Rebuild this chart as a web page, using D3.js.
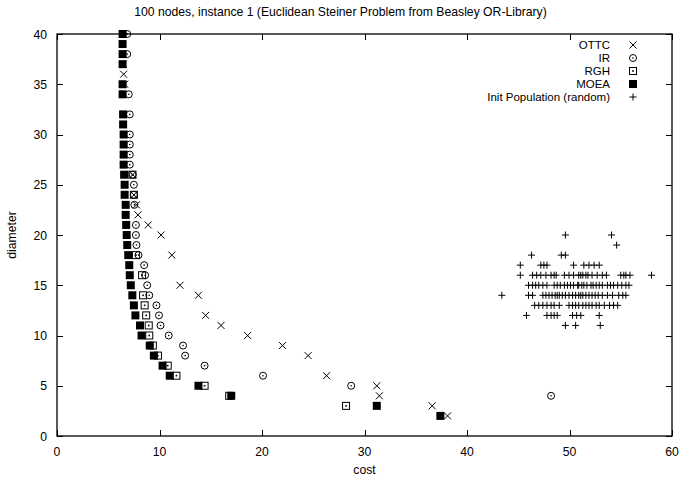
<!DOCTYPE html>
<html>
<head>
<meta charset="utf-8">
<script src="https://cdn.jsdelivr.net/npm/d3@7"></script>
<style>
  html, body { margin: 0; padding: 0; background: #fff; }
  svg { display: block; font-family: "Liberation Sans", Arial, Helvetica, sans-serif; }
</style>
</head>
<body>
<svg id="chart" width="681" height="483"></svg>
<script>
// ---------------- DATA ----------------
const chartTitle = "100 nodes, instance 1 (Euclidean Steiner Problem from Beasley OR-Library)";
const xLabel = "cost";
const yLabel = "diameter";
const xTicks = [0, 10, 20, 30, 40, 50, 60];
const yTicks = [0, 5, 10, 15, 20, 25, 30, 35, 40];
const seriesNames = ["OTTC", "IR", "RGH", "MOEA", "Init Population (random)"];

// [cost, diameter]
const ottc = [[6.45,37],[6.5,36],[6.6,35],[7.4,26],[7.5,24],[7.75,23],[7.9,22],[8.9,21],[10.15,20],[11.2,18],
  [12.0,15],[13.8,14],[14.5,12],[16.0,11],[18.6,10],[22.0,9],[24.5,8],[26.3,6],[31.2,5],[31.45,4],[36.6,3],[38.1,2]];

const ir = [[6.85,40],[6.85,38],[7.0,34],[7.1,32],[7.1,30],[7.1,29],[7.1,28],[7.1,27],[7.4,26],[7.5,25],[7.5,24],
  [7.55,23],[7.7,21],[7.7,20],[7.75,19],[7.95,18],[8.5,17],[8.6,16],[8.8,15],[9.0,14],[9.7,13],[9.95,12],[10.1,11],
  [10.9,10],[12.3,9],[12.5,8],[14.4,7],[20.1,6],[28.7,5],[48.2,4]];

const rgh = [[7.35,26],[7.5,24],[7.7,18],[8.3,16],[8.4,14],[8.55,13],[8.7,12],[8.95,11],[9.0,10],[9.35,9],
  [9.85,8],[10.8,7],[11.65,6],[14.4,5],[16.8,4],[28.2,3]];

const moea = [[6.4,40],[6.4,39],[6.4,38],[6.4,37],[6.4,35],[6.4,34],[6.45,32],[6.45,31],[6.5,30],[6.5,29],[6.5,28],
  [6.5,27],[6.55,26],[6.6,25],[6.6,24],[6.7,23],[6.7,22],[6.75,21],[6.8,20],[6.85,19],[6.95,18],[7.05,17],[7.1,16],
  [7.2,15],[7.35,14],[7.5,13],[7.65,12],[8.1,11],[8.25,10],[9.05,9],[9.45,8],[10.3,7],[11.0,6],[13.8,5],[17.0,4],
  [31.2,3],[37.4,2]];

// initial random population, costs per diameter row
const initD20 = [49.6, 54.1];
const initD19 = [54.6];
const initD18 = [46.3, 49.2, 49.6];
const initD17 = [45.2, 47.2, 47.5, 47.8, 50.4, 51.4, 51.9, 52.4, 52.9];
const initD16 = [45.2, 46.4, 46.8, 47.2, 47.7, 48.2, 48.5, 48.7, 49.5, 49.95, 50.4, 50.9, 51.1, 51.3, 51.6, 51.8,
  52.2, 52.7, 53.2, 53.6, 55.0, 55.3, 55.5, 55.9, 58.0];
const initD15 = [46.0, 46.4, 46.7, 47.0, 47.4, 47.8, 48.5, 48.8, 49.1, 49.5, 49.8, 50.1, 50.4, 50.8, 50.9, 51.2,
  51.4, 51.7, 52.1, 52.3, 52.6, 52.9, 53.2, 53.7, 54.0, 54.3, 54.7, 55.1, 55.5, 55.8];
const initD14 = [43.4, 46.0, 46.4, 47.4, 47.7, 48.0, 48.3, 48.6, 48.8, 49.0, 49.3, 49.6, 49.95, 50.3, 50.6, 50.9,
  51.1, 51.3, 51.6, 51.9, 52.2, 52.5, 52.8, 53.2, 53.7, 54.2, 54.8, 55.2, 55.5];
const initD13 = [46.6, 47.0, 47.4, 47.8, 48.2, 48.5, 49.0, 49.95, 50.3, 50.6, 50.9, 51.3, 51.6, 51.9, 52.2, 52.6,
  52.9, 53.4, 53.9, 54.3, 54.7];
const initD12 = [45.8, 47.8, 48.2, 48.5, 48.8, 50.3, 50.7, 51.1, 52.9];
const initD11 = [49.6, 50.6, 53.0];
const initRows = [[20, initD20], [19, initD19], [18, initD18], [17, initD17], [16, initD16], [15, initD15],
  [14, initD14], [13, initD13], [12, initD12], [11, initD11]];
const initPop = initRows.flatMap(([d, costs]) => costs.map(c => [c, d]));

// ---------------- CHART ----------------
const W = 681, H = 483;
const plot = { left: 57, right: 672, top: 34, bottom: 436 };
const svg = d3.select("#chart");
const x = d3.scaleLinear().domain([0, 60]).range([plot.left, plot.right]);
const y = d3.scaleLinear().domain([0, 40]).range([plot.bottom, plot.top]);
const fontSize = 12.2;
const legendFont = 11.5;
const tickLen = 6;
const S = 3.5; // marker half size

// ticks (inward, mirrored)
const axisG = svg.append("g").attr("stroke", "#000").attr("stroke-width", 1);
xTicks.forEach(t => {
  const px = Math.round(x(t)) + 0.5;
  axisG.append("line").attr("x1", px).attr("x2", px).attr("y1", plot.bottom).attr("y2", plot.bottom - tickLen);
  axisG.append("line").attr("x1", px).attr("x2", px).attr("y1", plot.top).attr("y2", plot.top + tickLen);
});
yTicks.forEach(t => {
  const py = Math.round(y(t)) + 0.5;
  axisG.append("line").attr("x1", plot.left).attr("x2", plot.left + tickLen).attr("y1", py).attr("y2", py);
  axisG.append("line").attr("x1", plot.right).attr("x2", plot.right - tickLen).attr("y1", py).attr("y2", py);
});
svg.append("rect")
  .attr("x", plot.left).attr("y", plot.top)
  .attr("width", plot.right - plot.left).attr("height", plot.bottom - plot.top)
  .attr("fill", "none").attr("stroke", "#000").attr("stroke-width", 1.3);

// tick labels
svg.append("g").selectAll("text").data(xTicks).join("text")
  .attr("x", d => x(d)).attr("y", plot.bottom + 20)
  .attr("text-anchor", "middle").attr("font-size", fontSize).text(d => d);
svg.append("g").selectAll("text").data(yTicks).join("text")
  .attr("x", plot.left - 10).attr("y", d => y(d) + 4.5)
  .attr("text-anchor", "end").attr("font-size", fontSize).text(d => d);

// titles
svg.append("text").attr("x", W / 2).attr("y", 16).attr("text-anchor", "middle")
  .attr("font-size", fontSize).text(chartTitle);
svg.append("text").attr("x", (plot.left + plot.right) / 2).attr("y", 474).attr("text-anchor", "middle")
  .attr("font-size", fontSize).text(xLabel);
svg.append("text").attr("transform", `translate(16,${(plot.top + plot.bottom) / 2}) rotate(-90)`)
  .attr("text-anchor", "middle").attr("font-size", fontSize).text(yLabel);

// marker painters
function drawCross(g, cx, cy) {
  g.append("path").attr("d", `M${cx - S},${cy - S}L${cx + S},${cy + S}M${cx - S},${cy + S}L${cx + S},${cy - S}`)
    .attr("stroke", "#000").attr("stroke-width", 1).attr("fill", "none");
}
function drawCircle(g, cx, cy) {
  g.append("circle").attr("cx", cx).attr("cy", cy).attr("r", S).attr("fill", "none")
    .attr("stroke", "#000").attr("stroke-width", 1);
  g.append("circle").attr("cx", cx).attr("cy", cy).attr("r", 0.8).attr("fill", "#000");
}
function drawBox(g, cx, cy) {
  g.append("rect").attr("x", cx - S).attr("y", cy - S).attr("width", 2 * S).attr("height", 2 * S)
    .attr("fill", "none").attr("stroke", "#000").attr("stroke-width", 1);
  g.append("rect").attr("x", cx - 0.8).attr("y", cy - 0.8).attr("width", 1.6).attr("height", 1.6).attr("fill", "#000");
}
function drawFilled(g, cx, cy) {
  g.append("rect").attr("x", cx - S - 0.5).attr("y", cy - S - 0.5).attr("width", 2 * S + 1).attr("height", 2 * S + 1)
    .attr("fill", "#000");
}
function drawPlus(g, cx, cy) {
  g.append("path").attr("d", `M${cx - S},${cy}L${cx + S},${cy}M${cx},${cy - S}L${cx},${cy + S}`)
    .attr("stroke", "#000").attr("stroke-width", 1).attr("fill", "none");
}

const seriesData = [ottc, ir, rgh, moea, initPop];
const painters = [drawCross, drawCircle, drawBox, drawFilled, drawPlus];

seriesData.forEach((data, i) => {
  const g = svg.append("g").attr("class", "series-" + i);
  data.forEach(([c, d]) => painters[i](g, x(c), y(d)));
});

// legend
const legendTextRight = 610;
const legendMarkerX = 633;
const legendStep = 13;
seriesNames.forEach((name, i) => {
  const ly = 45 + i * legendStep;
  svg.append("text").attr("x", legendTextRight).attr("y", ly + 4.2).attr("text-anchor", "end")
    .attr("font-size", legendFont).text(name);
  painters[i](svg.append("g"), legendMarkerX, ly);
});
</script>
</body>
</html>
